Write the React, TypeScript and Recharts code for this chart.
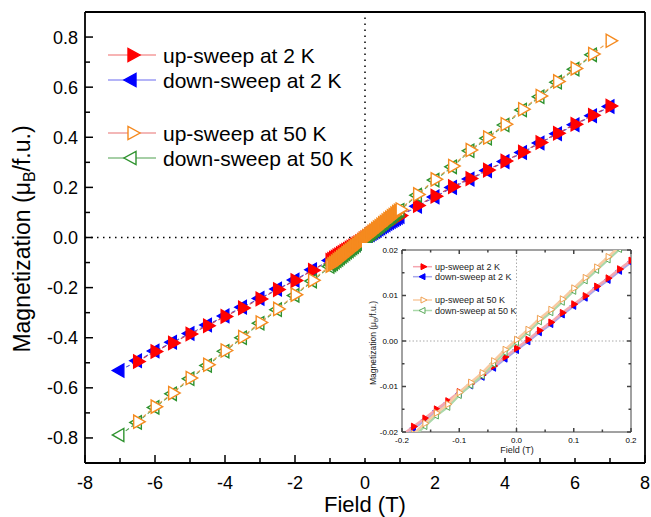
import React from 'react';
import { ScatterChart, Scatter, XAxis, YAxis, ReferenceLine, Customized } from 'recharts';

const FONT = '"Liberation Sans", Arial, Helvetica, sans-serif';

// main panel, field in T (outer points every 0.5 T, dense low-field band)
const fieldMain = [
  -7, -6.5, -6, -5.5, -5, -4.5, -4, -3.5, -3, -2.5, -2, -1.5,
  -1, -0.95, -0.9, -0.85, -0.8, -0.75, -0.7, -0.65, -0.6, -0.55, -0.5, -0.45, -0.4, -0.35, -0.3, -0.25, -0.2, -0.15, -0.1, -0.05,
  0, 0.05, 0.1, 0.15, 0.2, 0.25, 0.3, 0.35, 0.4, 0.45, 0.5, 0.55, 0.6, 0.65, 0.7, 0.75, 0.8, 0.85, 0.9, 0.95, 1,
  1.5, 2, 2.5, 3, 3.5, 4, 4.5, 5, 5.5, 6, 6.5, 7,
];

// magnetization, muB/f.u.
const up2K = [
  null, -0.495, -0.455, -0.421, -0.385, -0.352, -0.315, -0.281, -0.245, -0.208, -0.172, -0.131,
  -0.091, -0.087, -0.082, -0.078, -0.073, -0.069, -0.064, -0.060, -0.055, -0.051, -0.047, -0.042, -0.038, -0.034, -0.030, -0.025, -0.021, -0.016, -0.011, -0.006,
  -0.002, 0.003, 0.008, 0.013, 0.018, 0.022, 0.027, 0.031, 0.036, 0.040, 0.045, 0.049, 0.053, 0.058, 0.062, 0.066, 0.071, 0.075, 0.079, 0.083, 0.088,
  0.128, 0.165, 0.203, 0.235, 0.269, 0.305, 0.341, 0.379, 0.416, 0.452, 0.488, 0.525,
];
const down2K = [
  -0.531, -0.492, -0.453, -0.418, -0.383, -0.349, -0.313, -0.278, -0.243, -0.206, -0.170, -0.129,
  -0.092, -0.088, -0.084, -0.079, -0.075, -0.070, -0.066, -0.061, -0.057, -0.052, -0.048, -0.044, -0.040, -0.035, -0.031, -0.027, -0.022, -0.018, -0.013, -0.008,
  -0.004, 0.001, 0.006, 0.011, 0.016, 0.020, 0.025, 0.029, 0.034, 0.038, 0.043, 0.047, 0.051, 0.056, 0.060, 0.064, 0.068, 0.072, 0.076, 0.080, 0.084,
  0.125, 0.162, 0.200, 0.233, 0.267, 0.303, 0.339, 0.377, 0.414, 0.450, 0.486, 0.523,
];
const up50K = [
  null, -0.735, -0.675, -0.621, -0.561, -0.508, -0.451, -0.397, -0.339, -0.285, -0.228, -0.171,
  -0.113, -0.107, -0.102, -0.096, -0.090, -0.085, -0.079, -0.073, -0.068, -0.062, -0.056, -0.051, -0.045, -0.039, -0.034, -0.028, -0.022, -0.017, -0.011, -0.005,
  0.000, 0.006, 0.011, 0.017, 0.023, 0.028, 0.034, 0.040, 0.045, 0.051, 0.057, 0.062, 0.068, 0.074, 0.079, 0.085, 0.090, 0.096, 0.102, 0.107, 0.112,
  0.172, 0.232, 0.285, 0.349, 0.399, 0.452, 0.512, 0.565, 0.623, 0.675, 0.732, 0.785,
];
const down50K = [
  -0.788, -0.738, -0.678, -0.624, -0.564, -0.511, -0.454, -0.400, -0.342, -0.288, -0.231, -0.174,
  -0.116, -0.110, -0.105, -0.099, -0.093, -0.088, -0.082, -0.076, -0.071, -0.065, -0.059, -0.054, -0.048, -0.042, -0.037, -0.031, -0.025, -0.020, -0.014, -0.008,
  -0.003, 0.003, 0.008, 0.014, 0.020, 0.025, 0.031, 0.037, 0.042, 0.048, 0.054, 0.059, 0.065, 0.071, 0.076, 0.082, 0.087, 0.093, 0.099, 0.104, 0.109,
  0.169, 0.229, 0.282, 0.346, 0.396, 0.449, 0.509, 0.562, 0.620, 0.672, 0.729, null,
];

// inset, low field
const fieldInset = [-0.2, -0.18, -0.16, -0.14, -0.12, -0.1, -0.08, -0.06, -0.04, -0.02, 0, 0.02, 0.04, 0.06, 0.08, 0.1, 0.12, 0.14, 0.16, 0.18, 0.2];
const up2KInset = [-0.0207, -0.0188, -0.0170, -0.0150, -0.0132, -0.0112, -0.0094, -0.0075, -0.0055, -0.0035, -0.0016, 0.0003, 0.0023, 0.0041, 0.0062, 0.0081, 0.0099, 0.0120, 0.0138, 0.0158, 0.0177];
const down2KInset = [-0.0211, -0.0192, -0.0174, -0.0154, -0.0136, -0.0116, -0.0098, -0.0079, -0.0059, -0.0039, -0.0020, -0.0001, 0.0019, 0.0037, 0.0058, 0.0077, 0.0095, 0.0116, 0.0134, 0.0154, 0.0173];
const up50KInset = [-0.0226, -0.0204, -0.0181, -0.0158, -0.0139, -0.0113, -0.0091, -0.0070, -0.0044, -0.0019, 0.0003, 0.0025, 0.0049, 0.0069, 0.0092, 0.0116, 0.0139, 0.0162, 0.0185, 0.0208, 0.0230];
const down50KInset = [-0.0232, -0.0210, -0.0187, -0.0164, -0.0145, -0.0119, -0.0097, -0.0076, -0.0050, -0.0025, -0.0003, 0.0019, 0.0043, 0.0063, 0.0086, 0.0110, 0.0133, 0.0156, 0.0179, 0.0202, 0.0224];

const legendNames = ['up-sweep at 2 K', 'down-sweep at 2 K', 'up-sweep at 50 K', 'down-sweep at 50 K'];

const xTicksMain = [-8, -7, -6, -5, -4, -3, -2, -1, 0, 1, 2, 3, 4, 5, 6, 7, 8];
const yTicksMain = [-0.8, -0.7, -0.6, -0.5, -0.4, -0.3, -0.2, -0.1, 0, 0.1, 0.2, 0.3, 0.4, 0.5, 0.6, 0.7, 0.8];
const xTicksInset = [-0.2, -0.15, -0.1, -0.05, 0, 0.05, 0.1, 0.15, 0.2];
const yTicksInset = [-0.02, -0.015, -0.01, -0.005, 0, 0.005, 0.01, 0.015, 0.02];

const toPoints = (xs: number[], ys: (number | null)[]) =>
  xs.map((x, i) => ({ x, y: ys[i] })).filter((p) => p.y !== null);

type Style = { dir: 'r' | 'l'; fill: string; stroke: string; line: string; legendLine: string };
const styles: Style[] = [
  { dir: 'r', fill: '#ff0000', stroke: '#ff0000', line: '#c8405a', legendLine: '#f06a6a' },
  { dir: 'l', fill: '#0000ff', stroke: '#0000ff', line: '#4c4cd6', legendLine: '#6a6af0' },
  { dir: 'r', fill: '#ffffff', stroke: '#f58a1f', line: '#e8a050', legendLine: '#e87070' },
  { dir: 'l', fill: '#ffffff', stroke: '#2f932f', line: '#4fa04f', legendLine: '#4fa04f' },
];
const insetLine = ['#f5a6b0', '#a8a8ea', '#f8cba2', '#aad8aa'];
const insetStroke = ['#ff0000', '#0000ff', '#f0a050', '#5aaa5a'];

// triangle centred on its centroid, so up/down pairs overlap into a star
const Tri = ({ cx, cy, dir, h, w, fill, stroke, sw }: any) => {
  if (cx == null || cy == null) return null;
  const back = dir === 'r' ? cx - w / 3 : cx + w / 3;
  const tip = dir === 'r' ? cx + (2 * w) / 3 : cx - (2 * w) / 3;
  return (
    <polygon
      points={`${back},${cy - h} ${back},${cy + h} ${tip},${cy}`}
      fill={fill}
      stroke={stroke}
      strokeWidth={sw}
      strokeLinejoin="miter"
    />
  );
};

type TickOpts = { side: 'b' | 't' | 'l' | 'r'; step: number; major: number; minor: number; fmt?: (v: number) => string; fs?: number; gap?: number; color: string };
const mkTick = (o: TickOpts) => (p: any) => {
  const { x, y, payload } = p;
  const v = payload.value;
  const isMajor = Math.abs(v / o.step - Math.round(v / o.step)) < 1e-6;
  const len = isMajor ? o.major : o.minor;
  const fs = o.fs || 12;
  const gap = o.gap || 0;
  let line = null;
  let label = null;
  if (o.side === 'b') {
    line = <line x1={x} y1={y} x2={x} y2={y - len} stroke={o.color} strokeWidth={1.5} />;
    if (isMajor && o.fmt)
      label = <text x={x} y={y + gap + fs * 0.72} textAnchor="middle" fontSize={fs} fontFamily={FONT} fill="#000">{o.fmt(v)}</text>;
  } else if (o.side === 't') {
    line = <line x1={x} y1={y} x2={x} y2={y + len} stroke={o.color} strokeWidth={1.5} />;
  } else if (o.side === 'l') {
    line = <line x1={x} y1={y} x2={x + len} y2={y} stroke={o.color} strokeWidth={1.5} />;
    if (isMajor && o.fmt)
      label = <text x={x - gap} y={y + fs * 0.36} textAnchor="end" fontSize={fs} fontFamily={FONT} fill="#000">{o.fmt(v)}</text>;
  } else {
    line = <line x1={x} y1={y} x2={x - len} y2={y} stroke={o.color} strokeWidth={1.5} />;
  }
  return <g>{line}{label}</g>;
};

const fmt0 = (v: number) => String(Math.round(v));
const fmt1 = (v: number) => (Math.abs(v) < 1e-9 ? '0.0' : v.toFixed(1));
const fmt2 = (v: number) => (Math.abs(v) < 1e-9 ? '0.00' : v.toFixed(2));

const MainLegend = () => {
  const rows = [55, 80, 133, 158];
  return (
    <g>
      {legendNames.map((n, i) => (
        <g key={n}>
          <line x1={108} x2={156} y1={rows[i]} y2={rows[i]} stroke={styles[i].legendLine} strokeWidth={1.2} />
          <Tri cx={132} cy={rows[i]} dir={styles[i].dir} h={6.5} w={12} fill={styles[i].fill} stroke={styles[i].stroke} sw={1.4} />
          <text x={163} y={rows[i] + 7.5} fontSize={21} fontFamily={FONT} fill="#000">{n}</text>
        </g>
      ))}
    </g>
  );
};

const MainTitles = () => (
  <g fontFamily={FONT} fill="#000">
    <text x={365} y={512} textAnchor="middle" fontSize={22}>Field (T)</text>
    <text transform="translate(30,239) rotate(-90)" textAnchor="middle" fontSize={23}>
      Magnetization (μ<tspan fontSize={16} dy={5}>B</tspan><tspan dy={-5}>/f.u.)</tspan>
    </text>
  </g>
);

const InsetLegend = () => {
  const rows = [23.7, 33.7, 57, 67.5];
  return (
    <g>
      {legendNames.map((n, i) => (
        <g key={n}>
          <line x1={51} x2={70} y1={rows[i]} y2={rows[i]} stroke={insetLine[i]} strokeWidth={1.5} />
          <Tri cx={61} cy={rows[i]} dir={styles[i].dir} h={3} w={6} fill={styles[i].fill} stroke={insetStroke[i]} sw={1} />
          <text x={73} y={rows[i] + 3.2} fontSize={9} fontFamily={FONT} fill="#222">{n}</text>
        </g>
      ))}
    </g>
  );
};

const InsetTitles = () => (
  <g fontFamily={FONT} fill="#222">
    <text x={155} y={210} textAnchor="middle" fontSize={9}>Field (T)</text>
    <text transform="translate(14,100) rotate(-90)" textAnchor="middle" fontSize={8.5}>
      Magnetization (μ<tspan fontSize={6} dy={2}>B</tspan><tspan dy={-2}>/f.u.)</tspan>
    </text>
  </g>
);

const mainData = [down2K, up2K, down50K, up50K];
const mainOrder = [1, 0, 3, 2];
const insetData = [down2KInset, up2KInset, down50KInset, up50KInset];

export default function App() {
  const frame = { stroke: '#000', strokeWidth: 1.8 };
  const iframe = { stroke: '#444', strokeWidth: 1 };
  return (
    <div style={{ position: 'absolute', left: 0, top: 0, width: 651, height: 517, background: '#fff' }}>
      <ScatterChart width={651} height={517} margin={{ top: 11, right: 5, bottom: 53, left: 84 }}>
        <XAxis xAxisId="b" type="number" dataKey="x" domain={[-8, 8]} ticks={xTicksMain} interval={0} height={1}
          tickSize={0} tickMargin={0} tickLine={false} axisLine={frame}
          tick={mkTick({ side: 'b', step: 2, major: 8, minor: 5, fmt: fmt0, fs: 18, gap: 13, color: '#000' })} />
        <XAxis xAxisId="t" orientation="top" type="number" dataKey="x" domain={[-8, 8]} ticks={xTicksMain} interval={0} height={1}
          tickSize={0} tickMargin={0} tickLine={false} axisLine={frame}
          tick={mkTick({ side: 't', step: 2, major: 8, minor: 5, color: '#000' })} />
        <YAxis yAxisId="l" type="number" dataKey="y" domain={[-0.9, 0.9]} ticks={yTicksMain} interval={0} width={1}
          tickSize={0} tickMargin={0} tickLine={false} axisLine={frame}
          tick={mkTick({ side: 'l', step: 0.2, major: 8, minor: 5, fmt: fmt1, fs: 18, gap: 7, color: '#000' })} />
        <YAxis yAxisId="r" orientation="right" type="number" dataKey="y" domain={[-0.9, 0.9]} ticks={yTicksMain} interval={0} width={1}
          tickSize={0} tickMargin={0} tickLine={false} axisLine={frame}
          tick={mkTick({ side: 'r', step: 0.2, major: 8, minor: 5, color: '#000' })} />
        <ReferenceLine xAxisId="b" yAxisId="l" x={0} stroke="#000" strokeWidth={1.5} strokeDasharray="1.5 4.5" />
        <ReferenceLine xAxisId="b" yAxisId="l" y={0} stroke="#000" strokeWidth={1.5} strokeDasharray="1.5 4.5" />
        {mainData.map((ys, k) => {
          const s = styles[mainOrder[k]];
          return (
            <Scatter key={k} xAxisId="b" yAxisId="l" data={toPoints(fieldMain, ys)} isAnimationActive={false}
              line={{ stroke: s.line, strokeWidth: 1.1, strokeDasharray: '4 3' }}
              shape={(p: any) => {
                // the dense low-field points merge into a solid band
                const dense = p.payload && Math.abs(p.payload.x) < 0.999;
                return <Tri cx={p.cx} cy={p.cy} dir={s.dir} h={6.6} w={11.5} fill={dense ? s.stroke : s.fill} stroke={s.stroke} sw={1.4} />;
              }} />
          );
        })}
        <Customized component={MainLegend} />
        <Customized component={MainTitles} />
      </ScatterChart>

      <div style={{ position: 'absolute', left: 362, top: 243, width: 280, height: 215, background: '#fff' }}>
        <ScatterChart width={280} height={215} margin={{ top: 6, right: 10, bottom: 25, left: 39 }}>
          <XAxis xAxisId="b" type="number" dataKey="x" domain={[-0.2, 0.2]} ticks={xTicksInset} interval={0} height={1}
            allowDataOverflow tickSize={0} tickMargin={0} tickLine={false} axisLine={iframe}
            tick={mkTick({ side: 'b', step: 0.1, major: 4, minor: 2.5, fmt: fmt1, fs: 8, gap: 5, color: '#444' })} />
          <XAxis xAxisId="t" orientation="top" type="number" dataKey="x" domain={[-0.2, 0.2]} ticks={xTicksInset} interval={0} height={1}
            allowDataOverflow tickSize={0} tickMargin={0} tickLine={false} axisLine={iframe}
            tick={mkTick({ side: 't', step: 0.1, major: 4, minor: 2.5, color: '#444' })} />
          <YAxis yAxisId="l" type="number" dataKey="y" domain={[-0.02, 0.02]} ticks={yTicksInset} interval={0} width={1}
            allowDataOverflow tickSize={0} tickMargin={0} tickLine={false} axisLine={iframe}
            tick={mkTick({ side: 'l', step: 0.01, major: 4, minor: 2.5, fmt: fmt2, fs: 8, gap: 4, color: '#444' })} />
          <YAxis yAxisId="r" orientation="right" type="number" dataKey="y" domain={[-0.02, 0.02]} ticks={yTicksInset} interval={0} width={1}
            allowDataOverflow tickSize={0} tickMargin={0} tickLine={false} axisLine={iframe}
            tick={mkTick({ side: 'r', step: 0.01, major: 4, minor: 2.5, color: '#444' })} />
          <ReferenceLine xAxisId="b" yAxisId="l" x={0} stroke="#aaa" strokeWidth={1} strokeDasharray="1.5 2" />
          <ReferenceLine xAxisId="b" yAxisId="l" y={0} stroke="#aaa" strokeWidth={1} strokeDasharray="1.5 2" />
          {insetData.map((ys, k) => {
            const i = mainOrder[k];
            const s = styles[i];
            return (
              <Scatter key={k} xAxisId="b" yAxisId="l" data={toPoints(fieldInset, ys)} isAnimationActive={false}
                line={{ stroke: insetLine[i], strokeWidth: 2.5 }}
                shape={(p: any) => <Tri cx={p.cx} cy={p.cy} dir={s.dir} h={3.4} w={6} fill={s.fill} stroke={insetStroke[i]} sw={1} />} />
            );
          })}
          <Customized component={InsetLegend} />
          <Customized component={InsetTitles} />
        </ScatterChart>
      </div>
    </div>
  );
}
